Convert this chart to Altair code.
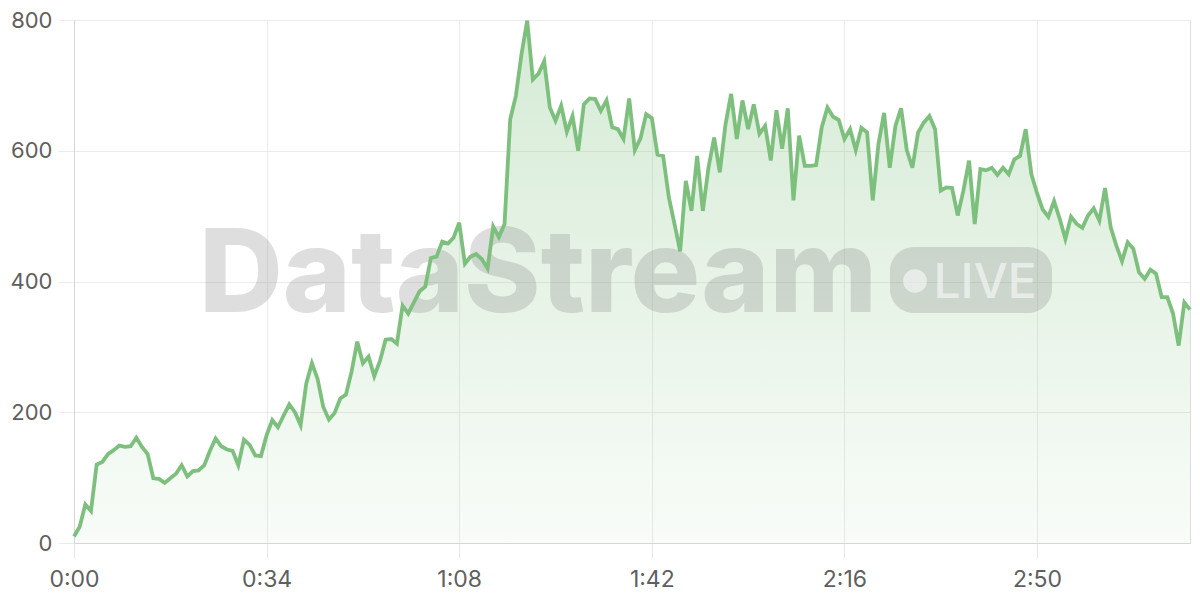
import altair as alt
import pandas as pd

seconds = list(range(198))
values = [
    10, 25, 59, 49, 120, 124, 136, 142, 149, 147,
    148, 161, 147, 136, 99, 98, 92, 99, 106, 119,
    102, 110, 111, 119, 141, 160, 148, 143, 141, 119,
    158, 150, 134, 133, 165, 188, 177, 195, 212, 200,
    180, 244, 275, 251, 208, 189, 199, 221, 227, 262,
    308, 275, 285, 255, 278, 311, 312, 305, 363, 351,
    368, 385, 392, 436, 438, 461, 458, 467, 490, 427,
    438, 442, 434, 420, 484, 468, 488, 648, 684, 748,
    799, 709, 718, 737, 666, 646, 669, 629, 653, 600,
    671, 680, 679, 661, 677, 636, 633, 618, 680, 601,
    619, 656, 650, 594, 592, 529, 488, 446, 554, 508,
    592, 508, 574, 620, 567, 640, 687, 618, 677, 633,
    671, 626, 638, 585, 662, 603, 665, 524, 623, 577,
    577, 578, 636, 666, 652, 647, 618, 633, 601, 635,
    628, 524, 610, 658, 574, 638, 665, 601, 574, 628,
    643, 653, 633, 539, 544, 543, 501, 539, 585, 488,
    572, 570, 574, 563, 574, 564, 587, 592, 633, 564,
    535, 510, 499, 523, 496, 465, 499, 488, 482, 501,
    512, 493, 543, 483, 455, 431, 460, 450, 414, 404,
    418, 412, 376, 376, 351, 302, 368, 357,
]
x_ticks = [0, 34, 68, 102, 136, 170]
y_ticks = [0, 200, 400, 600, 800]
watermark_text = ["DataStream"]
badge_text = ["LIVE"]

df = pd.DataFrame({"t": seconds, "v": values})

LINE = "#7dbf7d"
FONT = "Inter"

x_enc = alt.X(
    "t:Q",
    scale=alt.Scale(domain=[0, 197], nice=False, zero=True),
    axis=alt.Axis(
        values=x_ticks,
        labelExpr="floor(datum.value/60) + ':' + (datum.value % 60 < 10 ? '0' : '') + (datum.value % 60)",
        title=None,
        grid=True,
        gridColor="#ebebeb",
        domainColor="#d6d6d6",
        tickColor="#e6e6e6",
        tickSize=15,
        labelPadding=10,
        labelFontSize=23,
        labelColor="#5f5f5f",
        labelFont=FONT,
        labelFlush=False,
    ),
)
y_enc = alt.Y(
    "v:Q",
    scale=alt.Scale(domain=[0, 800], nice=False),
    axis=alt.Axis(
        values=y_ticks,
        title=None,
        grid=True,
        gridColor="#ebebeb",
        domainColor="#d6d6d6",
        tickColor="#ebebeb",
        tickSize=16,
        labelPadding=6,
        labelFontSize=22,
        labelColor="#5f5f5f",
        labelFont=FONT,
        labelFlush=False,
    ),
)

base = alt.Chart(df)

area = base.mark_area(
    color=alt.Gradient(
        gradient="linear",
        stops=[
            alt.GradientStop(color="rgba(125,191,125,0.32)", offset=0),
            alt.GradientStop(color="rgba(125,191,125,0.05)", offset=1),
        ],
        x1=1, x2=1, y1=0, y2=1,
    ),
    interpolate="linear",
).encode(x=x_enc, y=y_enc)

wm_df = pd.DataFrame({"label": watermark_text})
wm = alt.Chart(wm_df).mark_text(
    font=FONT, fontWeight=800, fontSize=116, color="#7a7a7a", opacity=0.24,
    align="center", baseline="alphabetic",
).encode(text="label:N", x=alt.value(464), y=alt.value(292))

badge = alt.Chart(wm_df).mark_rect(
    color="#7a7a7a", opacity=0.24, cornerRadius=24,
).encode(x=alt.value(816), x2=alt.value(978), y=alt.value(227), y2=alt.value(293))

dot = alt.Chart(wm_df).mark_point(
    shape="circle", filled=True, size=560, color="#ffffff", opacity=0.55,
).encode(x=alt.value(841), y=alt.value(261))

live_df = pd.DataFrame({"label": badge_text})
live = alt.Chart(live_df).mark_text(
    font=FONT, fontWeight=500, fontSize=48, color="#ffffff", opacity=0.55,
    align="center", baseline="alphabetic",
).encode(text="label:N", x=alt.value(911), y=alt.value(278))

line = base.mark_line(color=LINE, strokeWidth=3.8, interpolate="linear").encode(
    x="t:Q", y="v:Q"
)

chart = (
    alt.layer(area, wm, badge, dot, live, line)
    .properties(
        width=1116,
        height=523,
        autosize=alt.AutoSizeParams(type="none"),
        padding={"left": 66, "top": 12, "right": 2, "bottom": 49},
    )
    .configure_view(stroke=None)
    .configure(background="white")
)

chart.save("out.html", embed_options={"renderer": "svg", "actions": False})
